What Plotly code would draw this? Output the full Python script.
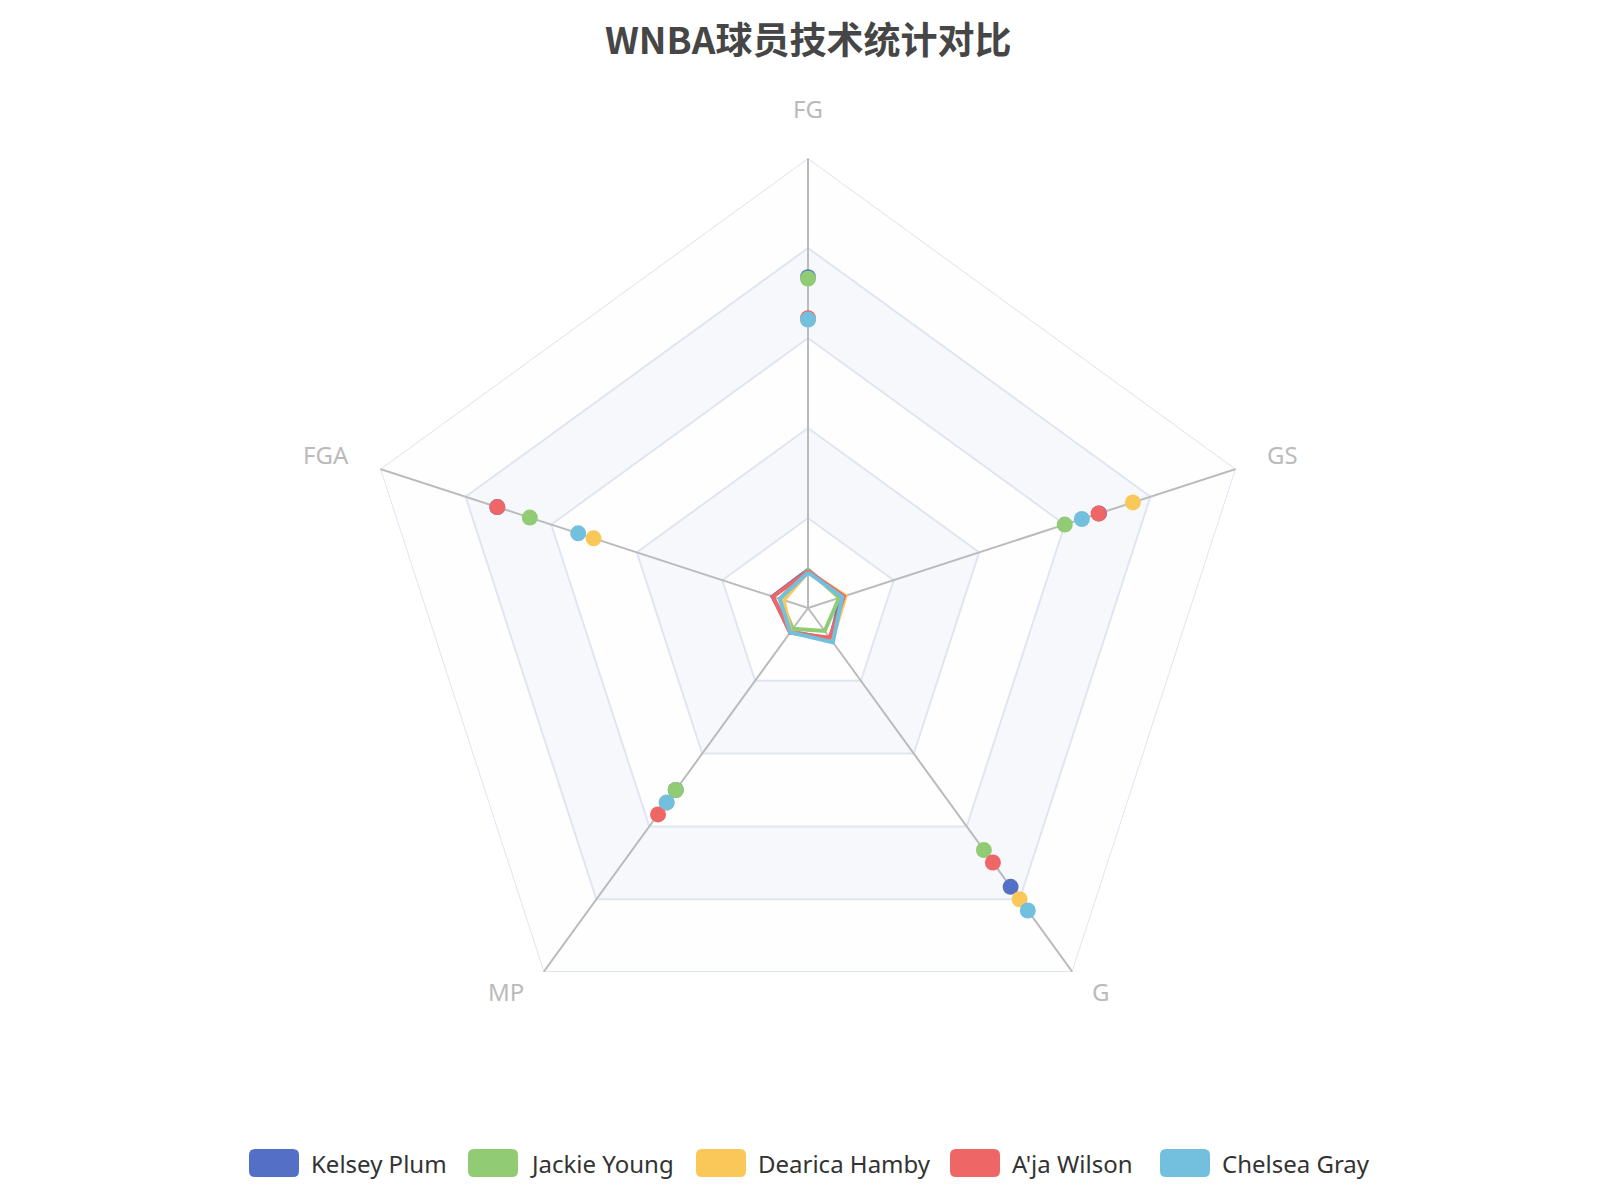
"""
WNBA player stats radar — recreated with Plotly
"""

import math
import plotly.graph_objects as go

# ─────────────────────────────────────────────────────────────────────────────
# Data
# ─────────────────────────────────────────────────────────────────────────────
title_text = "WNBA球员技术统计对比"
indicators = ["FG", "GS", "G", "MP", "FGA"]
players = ["Kelsey Plum", "Jackie Young", "Dearica Hamby", "A'ja Wilson", "Chelsea Gray"]
colors = ["#5470c6", "#91cc75", "#fac858", "#ee6666", "#73c0de"]

# polygon values (score, 0-100) in indicator order
kelsey_line = [8.5, 7.6, 8.5, 6.5, 8.3]
jackie_line = [8.5, 7.3, 6.3, 5.7, 6.6]
dearica_line = [8.0, 8.8, 9.0, 6.6, 5.7]
aja_line = [8.2, 8.4, 8.2, 6.8, 8.2]
chelsea_line = [7.9, 8.0, 9.4, 6.7, 6.6]

# point values (score, 0-100) in indicator order
kelsey_pts = [73.5, 68.0, 76.6, 50.0, 72.6]
jackie_pts = [73.2, 60.0, 66.5, 50.0, 65.0]
dearica_pts = [64.2, 75.9, 80.0, 53.5, 50.1]
aja_pts = [64.4, 67.9, 69.9, 56.7, 72.6]
chelsea_pts = [64.1, 64.0, 83.1, 53.4, 53.7]

line_values = [kelsey_line, jackie_line, dearica_line, aja_line, chelsea_line]
point_values = [kelsey_pts, jackie_pts, dearica_pts, aja_pts, chelsea_pts]

levels = [20, 40, 60, 80, 100]
r_max = 100

# ─────────────────────────────────────────────────────────────────────────────
# Layout constants
# ─────────────────────────────────────────────────────────────────────────────
W, H = 1600, 1200
cx, cy, R = 800, 600, 450
name_gap = 30
title_top = 1
legend_icon_x = [241, 460, 688, 942, 1152]
legend_y = 1155
band_colors = ["#fefefe", "#f6f8fc"]


def px(x, y):
    return x / W, 1 - y / H


def closed(vals):
    return list(vals) + [vals[0]]


theta_loop = closed(indicators)

fig = go.Figure()

# split areas, drawn from the outside in
for i, lv in reversed(list(enumerate(levels))):
    fig.add_trace(go.Scatterpolar(
        r=[lv] * len(theta_loop), theta=theta_loop,
        mode="lines", fill="toself",
        fillcolor=band_colors[i % 2],
        line=dict(width=0, color=band_colors[i % 2]),
        hoverinfo="skip", showlegend=False, cliponaxis=False,
    ))

# split lines
for lv in levels:
    fig.add_trace(go.Scatterpolar(
        r=[lv] * len(theta_loop), theta=theta_loop,
        mode="lines", line=dict(color="#e0e6f1", width=2),
        hoverinfo="skip", showlegend=False, cliponaxis=False,
    ))

# axis spokes
spoke_r, spoke_t = [], []
for name in indicators:
    spoke_r += [0, r_max, None]
    spoke_t += [name, name, None]
fig.add_trace(go.Scatterpolar(
    r=spoke_r, theta=spoke_t, mode="lines",
    line=dict(color="#bbbbbb", width=2),
    hoverinfo="skip", showlegend=False, cliponaxis=False,
))

# series
for name, col, lv, pv in zip(players, colors, line_values, point_values):
    fig.add_trace(go.Scatterpolar(
        r=closed(lv), theta=theta_loop, mode="lines",
        line=dict(color=col, width=4),
        name=name, legendgroup=name, showlegend=False,
    ))
    fig.add_trace(go.Scatterpolar(
        r=pv, theta=indicators, mode="markers",
        marker=dict(color=col, size=16, line=dict(width=0)),
        name=name, legendgroup=name, showlegend=False, cliponaxis=False,
    ))

annotations, shapes = [], []

# title
tx, ty = px(cx, title_top)
annotations.append(dict(
    x=tx, y=ty, xref="paper", yref="paper", text=f"<b>{title_text}</b>",
    showarrow=False, xanchor="center", yanchor="top",
    font=dict(family="Noto Sans CJK SC, sans-serif", size=37, color="#464646"),
))

# indicator names (aligned away from the centre, like echarts)
for k, name in enumerate(indicators):
    ang = math.radians(90 - 360 * k / len(indicators))
    c, s = math.cos(ang), math.sin(ang)
    ax_ = cx + (R + name_gap) * c
    ay_ = cy - (R + name_gap) * s
    if abs(c) < 0.01:
        xa = "center"
        ay_ -= 15 if s > 0 else -15
    else:
        xa = "left" if c > 0 else "right"
    lx, ly = px(ax_, ay_ - 5)
    annotations.append(dict(
        x=lx, y=ly, xref="paper", yref="paper", text=name, showarrow=False,
        xanchor=xa, yanchor="middle",
        font=dict(family="Noto Sans, sans-serif", size=24, color="#bbbbbb"),
    ))

# custom legend (rounded rect icons)
icon_w, icon_h, rad = 50, 28, 6
for x0, name, col in zip(legend_icon_x, players, colors):
    y0 = legend_y - icon_h / 2
    x1, y1 = x0 + icon_w, y0 + icon_h
    pts = [
        (x0 + rad, y0), (x1 - rad, y0), (x1, y0 + rad), (x1, y1 - rad),
        (x1 - rad, y1), (x0 + rad, y1), (x0, y1 - rad), (x0, y0 + rad),
    ]
    p = [px(*q) for q in pts]
    cc = [px(x1, y0), px(x1, y1), px(x0, y1), px(x0, y0)]
    path = (
        f"M {p[0][0]},{p[0][1]} L {p[1][0]},{p[1][1]} "
        f"Q {cc[0][0]},{cc[0][1]} {p[2][0]},{p[2][1]} L {p[3][0]},{p[3][1]} "
        f"Q {cc[1][0]},{cc[1][1]} {p[4][0]},{p[4][1]} L {p[5][0]},{p[5][1]} "
        f"Q {cc[2][0]},{cc[2][1]} {p[6][0]},{p[6][1]} L {p[7][0]},{p[7][1]} "
        f"Q {cc[3][0]},{cc[3][1]} {p[0][0]},{p[0][1]} Z"
    )
    shapes.append(dict(type="path", xref="paper", yref="paper", path=path,
                       fillcolor=col, line=dict(width=0)))
    lx, ly = px(x1 + 10, legend_y)
    annotations.append(dict(
        x=lx, y=ly, xref="paper", yref="paper", text=name, showarrow=False,
        xanchor="left", yanchor="middle",
        font=dict(family="Noto Sans, sans-serif", size=24, color="#333333"),
    ))

fig.update_layout(
    width=W, height=H,
    margin=dict(l=0, r=0, t=0, b=0),
    paper_bgcolor="white",
    showlegend=False,
    polar=dict(
        domain=dict(x=[(cx - R) / W, (cx + R) / W], y=[1 - (cy + R) / H, 1 - (cy - R) / H]),
        bgcolor="rgba(0,0,0,0)",
        gridshape="linear",
        radialaxis=dict(visible=False, range=[0, r_max]),
        angularaxis=dict(
            type="category", categoryorder="array", categoryarray=indicators,
            rotation=90, direction="clockwise",
            showgrid=False, showline=False, showticklabels=False, ticks="",
        ),
    ),
    shapes=shapes,
    annotations=annotations,
)

fig.write_html("out.html")
